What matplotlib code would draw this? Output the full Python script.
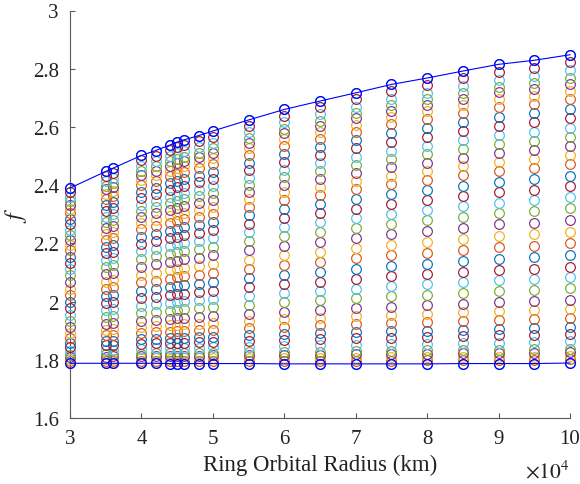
import matplotlib
matplotlib.use('Agg')
import matplotlib.pyplot as plt
import numpy as np

# ring orbital radius (x 10^4 km)
radius = [3.0, 3.5, 3.6, 4.0, 4.2, 4.4, 4.5, 4.6, 4.8, 5.0,
          5.5, 6.0, 6.5, 7.0, 7.5, 8.0, 8.5, 9.0, 9.5, 10.0]

# top and bottom of each column
f_upper = [2.390, 2.447, 2.458, 2.502, 2.519, 2.538, 2.548, 2.556, 2.570, 2.586,
           2.624, 2.660, 2.689, 2.717, 2.746, 2.768, 2.792, 2.815, 2.829, 2.848]
f_lower = [1.788, 1.788, 1.788, 1.788, 1.788, 1.787, 1.787, 1.787, 1.787, 1.787,
           1.787, 1.786, 1.786, 1.786, 1.786, 1.786, 1.787, 1.787, 1.787, 1.789]

# relative height of each of the 36 series inside a column (bottom -> top)
level = [0.000, 0.012, 0.023, 0.035, 0.047, 0.070, 0.094, 0.116, 0.146, 0.175,
         0.205, 0.242, 0.278, 0.313, 0.350, 0.389, 0.426, 0.465, 0.502, 0.538,
         0.573, 0.608, 0.644, 0.674, 0.704, 0.734, 0.763, 0.795, 0.825, 0.857,
         0.883, 0.906, 0.925, 0.949, 0.976, 1.000]

matlab_colors = ['#0072BD', '#D95319', '#EDB120', '#7E2F8E',
                 '#77AC30', '#4DBEEE', '#A2142F']

plt.rcParams['font.family'] = ['Liberation Serif', 'DejaVu Serif']
plt.rcParams['mathtext.fontset'] = 'stix'

x = np.array(radius)
lo = np.array(f_lower)
hi = np.array(f_upper)

fig = plt.figure(figsize=(5.8, 4.85), dpi=100)
ax = fig.add_axes([70 / 580, 66 / 485, 500 / 580, 407.5 / 485])

for k, lv in enumerate(level):
    y = lo + (hi - lo) * lv
    ax.plot(x, y, 'o', ls='none', mfc='none', mec=matlab_colors[k % 7],
            ms=7, mew=0.85, clip_on=False, zorder=2)

ax.plot(x, hi, '-o', color='#0000FF', mfc='none', ms=7, mew=0.85, lw=0.8,
        clip_on=False, zorder=3)
ax.plot(x, lo, '-o', color='#0000FF', mfc='none', ms=7, mew=0.85, lw=0.8,
        clip_on=False, zorder=3)

ax.set_xlim(3, 10)
ax.set_ylim(1.6, 3.0)
ax.set_xticks(range(3, 11))
ax.set_yticks([1.6, 1.8, 2.0, 2.2, 2.4, 2.6, 2.8, 3.0])
ax.set_yticklabels(['1.6', '1.8', '2', '2.2', '2.4', '2.6', '2.8', '3'])

for side in ['top', 'right']:
    ax.spines[side].set_visible(False)
for side in ['left', 'bottom']:
    ax.spines[side].set_color('#5a5a5a')
    ax.spines[side].set_linewidth(0.8)
    ax.spines[side].set_zorder(1)
ax.tick_params(direction='in', length=3.5, width=0.8, color='#5a5a5a',
               labelsize=15, labelcolor='#222222', pad=8)

ax.set_xlabel('Ring Orbital Radius (km)', fontsize=16.5, color='#222222', labelpad=4)
ax.set_ylabel('$f$', fontsize=17, color='#222222', labelpad=3)

fig.text(570 / 580, 7 / 485, r'$\times 10^4$', ha='right', va='baseline',
         fontsize=15.5, color='#222222')

fig.savefig('out.png', dpi=100)
